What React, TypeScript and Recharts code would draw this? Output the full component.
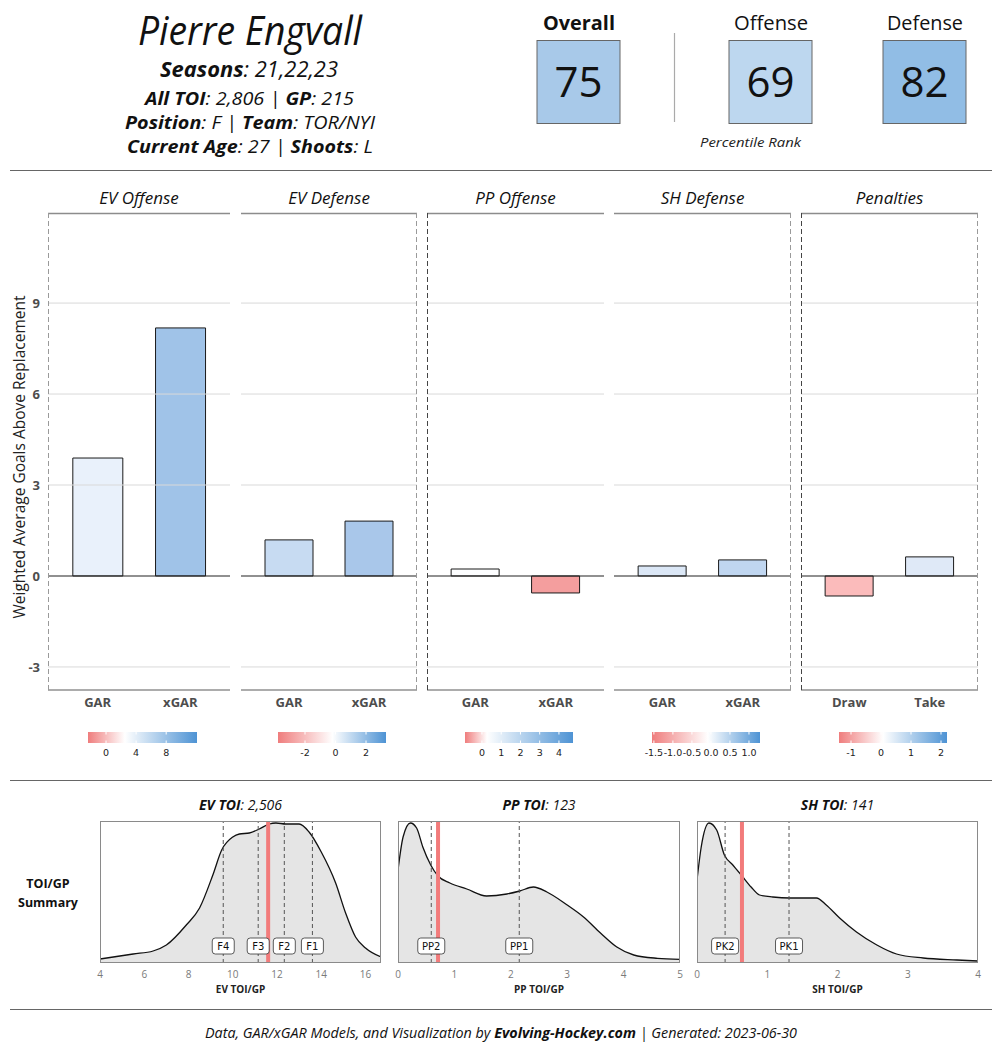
import React from 'react';
import { BarChart, Bar, XAxis, YAxis, Cell, ReferenceLine, AreaChart, Area } from 'recharts';

const FONT = '"Open Sans", sans-serif';
const SMALL = '"DejaVu Sans", sans-serif';

// ---------- Bar panels data ----------
const panelTitles = ['EV Offense', 'EV Defense', 'PP Offense', 'SH Defense', 'Penalties'];
const garCats = ['GAR', 'xGAR'];
const penCats = ['Draw', 'Take'];
const evOffVals = [3.89, 8.18];
const evDefVals = [1.19, 1.81];
const ppOffVals = [0.23, -0.56];
const shDefVals = [0.33, 0.53];
const penVals = [-0.66, 0.63];
const evOffColors = ['#e9f1fb', '#a0c3e8'];
const evDefColors = ['#c7dbf2', '#a9c7ea'];
const ppOffColors = ['#fdfeff', '#f49e9e'];
const shDefColors = ['#dbe7f6', '#c0d6f0'];
const penColors = ['#fbbbbb', '#dfe9f7'];
const yTicks = [-3, 0, 3, 6, 9];
const yDomain = [-3.76, 11.97];

// colour bar legends
const cbRanges = [[-2.4, 12.1], [-3.77, 3.31], [-0.88, 4.73], [-1.55, 1.29], [-1.4, 2.2]];
const cbMids = [2.5, -0.2, 0.26, -0.08, 0.07];
const cbTicks = [[0, 4, 8], [-2, 0, 2], [0, 1, 2, 3, 4], [-1.5, -1.0, -0.5, 0.0, 0.5, 1.0], [-1, 0, 1, 2]];
const cbLabels = [['0', '4', '8'], ['-2', '0', '2'], ['0', '1', '2', '3', '4'], ['-1.5', '-1.0', '-0.5', '0.0', '0.5', '1.0'], ['-1', '0', '1', '2']];

// ---------- Header ----------
const playerName = 'Pierre Engvall';
const seasons = '21,22,23';
const allToi = '2,806';
const gp = '215';
const position = 'F';
const team = 'TOR/NYI';
const age = '27';
const shoots = 'L';
const rankLabels = ['Overall', 'Offense', 'Defense'];
const rankValues = [75, 69, 82];
const rankColors = ['#a8c9e9', '#bdd7ef', '#91bde5'];

// ---------- Density panels ----------
const evToiX = [4.0, 5.5, 6.4, 7.0, 7.9, 8.5, 9.1, 9.5, 10.0, 10.3, 10.75, 11.2, 11.65, 11.95, 12.4, 13.0, 13.45, 14.0, 14.65, 15.1, 15.55, 16.0, 16.7];
const evToiD = [0.003, 0.008, 0.011, 0.017, 0.037, 0.054, 0.087, 0.112, 0.125, 0.128, 0.129, 0.133, 0.138, 0.139, 0.138, 0.138, 0.130, 0.110, 0.079, 0.049, 0.025, 0.014, 0.005];
const ppToiX = [0, 0.09, 0.22, 0.33, 0.44, 0.58, 0.71, 0.92, 1.22, 1.57, 1.93, 2.16, 2.4, 2.64, 3.0, 3.29, 3.59, 3.88, 4.18, 4.6, 5.0];
const ppToiD = [0.092, 0.125, 0.139, 0.134, 0.115, 0.097, 0.086, 0.079, 0.073, 0.066, 0.068, 0.071, 0.075, 0.070, 0.057, 0.045, 0.029, 0.015, 0.007, 0.0037, 0.0027];
const shToiX = [0, 0.06, 0.17, 0.28, 0.39, 0.51, 0.63, 0.77, 0.89, 1.08, 1.32, 1.51, 1.7, 1.84, 2.03, 2.27, 2.56, 2.84, 3.22, 3.7, 4.0];
const shToiD = [0.082, 0.115, 0.139, 0.132, 0.107, 0.097, 0.087, 0.075, 0.067, 0.065, 0.064, 0.064, 0.064, 0.057, 0.044, 0.030, 0.017, 0.008, 0.004, 0.002, 0.001];
const evTicks = [4, 6, 8, 10, 12, 14, 16];
const ppTicks = [0, 1, 2, 3, 4, 5];
const shTicks = [0, 1, 2, 3, 4];
const evMarkers = [9.57, 11.15, 12.33, 13.6];
const evMarkerLabels = ['F4', 'F3', 'F2', 'F1'];
const ppMarkers = [0.59, 2.15];
const ppMarkerLabels = ['PP2', 'PP1'];
const shMarkers = [0.4, 1.31];
const shMarkerLabels = ['PK2', 'PK1'];
const evPlayer = 11.6;
const ppPlayer = 0.71;
const shPlayer = 0.64;
const densityTitles = [['EV TOI', '2,506'], ['PP TOI', '123'], ['SH TOI', '141']];
const densityAxisTitles = ['EV TOI/GP', 'PP TOI/GP', 'SH TOI/GP'];

// ---------- layout ----------
const panelX = [[48, 230], [241, 417], [427, 604], [614, 791], [801, 978]];
const cbX = [[88, 197], [278, 386], [465, 573], [652, 760], [839, 947]];
const PANEL_TOP = 213;
const PANEL_BOTTOM = 690;
const densX = [[100, 381], [398, 680], [697, 978]];
const D_TOP = 821;
const D_BOTTOM = 963;
const D_SIDE = 12;

const panels = [
  { cats: garCats, vals: evOffVals, colors: evOffColors },
  { cats: garCats, vals: evDefVals, colors: evDefColors },
  { cats: garCats, vals: ppOffVals, colors: ppOffColors },
  { cats: garCats, vals: shDefVals, colors: shDefColors },
  { cats: penCats, vals: penVals, colors: penColors },
];

function BarPanel({ idx }: { idx: number }) {
  const p = panels[idx];
  const [x0, x1] = panelX[idx];
  const width = x1 - x0;
  const showY = idx === 0;
  const axisW = showY ? 40 : 0;
  const pad = (width / 2.2) * 0.1;
  const data = p.cats.map((c, i) => ({ cat: c, v: p.vals[i] }));
  const tickStyle = { fill: '#4d4d4d', fontSize: 13, fontWeight: 700, fontFamily: FONT };
  return (
    <div style={{ position: 'absolute', left: x0 - axisW, top: PANEL_TOP }}>
      <BarChart
        width={width + axisW}
        height={PANEL_BOTTOM - PANEL_TOP + 30}
        data={data}
        margin={{ top: 0, right: 0, bottom: 0, left: 0 }}
        barCategoryGap="20%"
      >
        <XAxis
          dataKey="cat"
          height={30}
          interval={0}
          padding={{ left: pad, right: pad }}
          axisLine={{ stroke: '#5a5a5a', strokeWidth: 1.2 }}
          tickLine={false}
          tick={tickStyle}
        />
        <YAxis
          type="number"
          domain={yDomain}
          ticks={yTicks}
          allowDataOverflow
          hide={!showY}
          width={40}
          axisLine={false}
          tickLine={false}
          tick={tickStyle}
        />
        {yTicks.filter((t) => t !== 0).map((t) => (
          <ReferenceLine key={t} y={t} stroke="#d9d9d9" strokeWidth={1} />
        ))}
        <Bar dataKey="v" isAnimationActive={false} stroke="#1a1a1a" strokeWidth={1}>
          {data.map((d, i) => (
            <Cell key={i} fill={p.colors[i]} />
          ))}
        </Bar>
        <ReferenceLine y={0} stroke="#222" strokeWidth={1.2} />
      </BarChart>
    </div>
  );
}

function renderBox(props: any, text: string) {
  const vb = props.viewBox || {};
  const cx = vb.x;
  const bottom = vb.y + vb.height;
  const w = text.length > 2 ? 27 : 22;
  const h = 16;
  const y = bottom - 25;
  return (
    <g>
      <rect x={cx - w / 2} y={y} width={w} height={h} rx={3} ry={3} fill="#fff" stroke="#333" strokeWidth={0.8} />
      <text x={cx} y={y + 12} textAnchor="middle" fontSize={10} fontFamily={SMALL} fill="#111">
        {text}
      </text>
    </g>
  );
}

function DensityPanel({ idx }: { idx: number }) {
  const cfg = [
    { xs: evToiX, ys: evToiD, domain: [4, 16.7], ticks: evTicks, markers: evMarkers, labels: evMarkerLabels, player: evPlayer },
    { xs: ppToiX, ys: ppToiD, domain: [0, 5], ticks: ppTicks, markers: ppMarkers, labels: ppMarkerLabels, player: ppPlayer },
    { xs: shToiX, ys: shToiD, domain: [0, 4], ticks: shTicks, markers: shMarkers, labels: shMarkerLabels, player: shPlayer },
  ][idx];
  const [x0, x1] = densX[idx];
  const data = cfg.xs.map((x, i) => ({ x, d: cfg.ys[i] }));
  return (
    <div style={{ position: 'absolute', left: x0 - D_SIDE, top: D_TOP }}>
      <AreaChart
        width={x1 - x0 + 2 * D_SIDE}
        height={D_BOTTOM - D_TOP + 24}
        data={data}
        margin={{ top: 0, right: D_SIDE, bottom: 0, left: D_SIDE }}
      >
        <XAxis
          type="number"
          dataKey="x"
          domain={cfg.domain}
          ticks={cfg.ticks}
          interval={0}
          allowDataOverflow
          height={24}
          axisLine={false}
          tickLine={false}
          tick={{ fill: '#7a7a7a', fontSize: 10, fontFamily: FONT }}
        />
        <YAxis hide type="number" domain={[-0.001, 0.141]} allowDataOverflow />
        <Area
          type="monotone"
          dataKey="d"
          baseValue={0}
          stroke="#111"
          strokeWidth={1.3}
          fill="#e5e5e5"
          fillOpacity={1}
          isAnimationActive={false}
          dot={false}
          activeDot={false}
        />
        {cfg.markers.map((m, i) => (
          <ReferenceLine key={'d' + i} x={m} stroke="#555" strokeWidth={1} strokeDasharray="4 3" />
        ))}
        <ReferenceLine x={cfg.player} stroke="#f27b7b" strokeWidth={4} />
        {cfg.markers.map((m, i) => (
          <ReferenceLine key={'l' + i} x={m} stroke="none" strokeOpacity={0} label={(p: any) => renderBox(p, cfg.labels[i])} />
        ))}
      </AreaChart>
    </div>
  );
}

function ColorBar({ idx }: { idx: number }) {
  const [x0, x1] = cbX[idx];
  const [mn, mx] = cbRanges[idx];
  const w = x1 - x0;
  const px = (v: number) => x0 + ((v - mn) / (mx - mn)) * w;
  const wf = (cbMids[idx] - mn) / (mx - mn);
  const id = 'cbgrad' + idx;
  return (
    <g>
      <defs>
        <linearGradient id={id} x1="0" x2="1" y1="0" y2="0">
          <stop offset="0" stopColor="#ef7d7d" />
          <stop offset={wf} stopColor="#ffffff" />
          <stop offset="1" stopColor="#4e93d4" />
        </linearGradient>
      </defs>
      <rect x={x0} y={732} width={w} height={11} fill={`url(#${id})`} />
      {cbTicks[idx].map((t, i) => (
        <g key={i}>
          <line x1={px(t)} x2={px(t)} y1={732} y2={734.5} stroke="#fff" strokeWidth={1} />
          <line x1={px(t)} x2={px(t)} y1={740.5} y2={743} stroke="#fff" strokeWidth={1} />
          <text x={px(t)} y={756} textAnchor="middle" fontSize={9.5} fontFamily={SMALL} fill="#222">
            {cbLabels[idx][i]}
          </text>
        </g>
      ))}
    </g>
  );
}

function Overlay() {
  const rankBoxX = [537, 729, 883];
  const rankLabelX = [[543, 72], [734, 74], [887, 76]];
  const dashGray = '#9a9a9a';
  const dashDark = '#444';
  return (
    <svg width={1000} height={1062} style={{ position: 'absolute', left: 0, top: 0, pointerEvents: 'none' }} fontFamily={FONT}>
      {/* Header left */}
      <text x={138} y={45} fontSize={40} fontStyle="italic" fill="#111" textLength={224} lengthAdjust="spacingAndGlyphs">
        {playerName}
      </text>
      <text x={160} y={77} fontSize={21} fontStyle="italic" fill="#111" textLength={178} lengthAdjust="spacingAndGlyphs">
        <tspan fontWeight={700}>Seasons</tspan>
        <tspan>: {seasons}</tspan>
      </text>
      <text x={145} y={105} fontSize={18} fontStyle="italic" fill="#111" textLength={209} lengthAdjust="spacingAndGlyphs">
        <tspan fontWeight={700}>All TOI</tspan>
        <tspan>: {allToi} | </tspan>
        <tspan fontWeight={700}>GP</tspan>
        <tspan>: {gp}</tspan>
      </text>
      <text x={125} y={129} fontSize={18} fontStyle="italic" fill="#111" textLength={250} lengthAdjust="spacingAndGlyphs">
        <tspan fontWeight={700}>Position</tspan>
        <tspan>: {position} | </tspan>
        <tspan fontWeight={700}>Team</tspan>
        <tspan>: {team}</tspan>
      </text>
      <text x={127} y={153} fontSize={18} fontStyle="italic" fill="#111" textLength={246} lengthAdjust="spacingAndGlyphs">
        <tspan fontWeight={700}>Current Age</tspan>
        <tspan>: {age} | </tspan>
        <tspan fontWeight={700}>Shoots</tspan>
        <tspan>: {shoots}</tspan>
      </text>

      {/* Header right */}
      {rankLabels.map((l, i) => (
        <text key={'rl' + i} x={rankLabelX[i][0]} y={30} fontSize={20} fontWeight={i === 0 ? 700 : 400} fill="#111" textLength={rankLabelX[i][1]} lengthAdjust="spacingAndGlyphs">
          {l}
        </text>
      ))}
      {rankValues.map((v, i) => (
        <g key={'rv' + i}>
          <rect x={rankBoxX[i]} y={40.5} width={83} height={83} fill={rankColors[i]} stroke="#666" strokeWidth={1} />
          <text x={rankBoxX[i] + 41.5} y={97} textAnchor="middle" fontSize={42} fill="#111">
            {v}
          </text>
        </g>
      ))}
      <line x1={674.5} x2={674.5} y1={33} y2={122} stroke="#aaa" strokeWidth={1.2} />
      <text x={700} y={147} fontSize={13} fontStyle="italic" fill="#222" textLength={101} lengthAdjust="spacingAndGlyphs">
        Percentile Rank
      </text>

      {/* separators */}
      <line x1={10} x2={992} y1={170.5} y2={170.5} stroke="#666" strokeWidth={1} />
      <line x1={10} x2={992} y1={780.5} y2={780.5} stroke="#666" strokeWidth={1} />
      <line x1={10} x2={992} y1={1009.5} y2={1009.5} stroke="#666" strokeWidth={1} />

      {/* facet titles + frames */}
      {panelTitles.map((t, i) => (
        <text key={'pt' + i} x={(panelX[i][0] + panelX[i][1]) / 2} y={204} textAnchor="middle" fontSize={17} fontStyle="italic" fill="#111">
          {t}
        </text>
      ))}
      {panelX.map(([a, b], i) => (
        <line key={'top' + i} x1={a} x2={b} y1={PANEL_TOP + 0.5} y2={PANEL_TOP + 0.5} stroke="#8c8c8c" strokeWidth={1.3} />
      ))}
      <line x1={48.5} x2={48.5} y1={PANEL_TOP} y2={PANEL_BOTTOM} stroke={dashGray} strokeDasharray="5 3" />
      <line x1={416.5} x2={416.5} y1={PANEL_TOP} y2={PANEL_BOTTOM} stroke={dashGray} strokeDasharray="5 3" />
      <line x1={427.5} x2={427.5} y1={PANEL_TOP} y2={PANEL_BOTTOM} stroke={dashDark} strokeDasharray="5 3" />
      <line x1={790.5} x2={790.5} y1={PANEL_TOP} y2={PANEL_BOTTOM} stroke={dashGray} strokeDasharray="5 3" />
      <line x1={801.5} x2={801.5} y1={PANEL_TOP} y2={PANEL_BOTTOM} stroke={dashDark} strokeDasharray="5 3" />
      <line x1={977.5} x2={977.5} y1={PANEL_TOP} y2={PANEL_BOTTOM} stroke={dashGray} strokeDasharray="5 3" />

      {/* y axis title */}
      <text x={25} y={457} transform="rotate(-90 25 457)" textAnchor="middle" fontSize={15.5} fill="#222">
        Weighted Average Goals Above Replacement
      </text>

      {/* colour bars */}
      {panelX.map((_, i) => (
        <ColorBar key={'cb' + i} idx={i} />
      ))}

      {/* density frames & titles */}
      {densX.map(([a, b], i) => (
        <g key={'df' + i}>
          <rect x={a + 0.5} y={D_TOP + 0.5} width={b - a - 1} height={D_BOTTOM - D_TOP - 1} fill="none" stroke="#8a8a8a" strokeWidth={1} />
          <text x={(a + b) / 2} y={810} textAnchor="middle" fontSize={14} fontStyle="italic" fill="#111">
            <tspan fontWeight={700}>{densityTitles[i][0]}</tspan>
            <tspan>: {densityTitles[i][1]}</tspan>
          </text>
          <text x={(a + b) / 2} y={993} textAnchor="middle" fontSize={10} fontWeight={700} fill="#222">
            {densityAxisTitles[i]}
          </text>
        </g>
      ))}
      <text x={48} y={888} textAnchor="middle" fontSize={12.5} fontWeight={700} fill="#111">
        TOI/GP
      </text>
      <text x={48} y={907} textAnchor="middle" fontSize={12.5} fontWeight={700} fill="#111">
        Summary
      </text>

      {/* footer */}
      <text x={205} y={1038} fontSize={14} fontStyle="italic" fill="#111" textLength={592} lengthAdjust="spacingAndGlyphs">
        <tspan>Data, GAR/xGAR Models, and Visualization by </tspan>
        <tspan fontWeight={700}>Evolving-Hockey.com</tspan>
        <tspan>{'  | Generated: 2023-06-30'}</tspan>
      </text>
    </svg>
  );
}

export default function App() {
  return (
    <div style={{ position: 'absolute', left: 0, top: 0, width: 1000, height: 1062, background: '#fff', fontFamily: FONT }}>
      {panelX.map((_, i) => (
        <BarPanel key={i} idx={i} />
      ))}
      {densX.map((_, i) => (
        <DensityPanel key={i} idx={i} />
      ))}
      <Overlay />
    </div>
  );
}
